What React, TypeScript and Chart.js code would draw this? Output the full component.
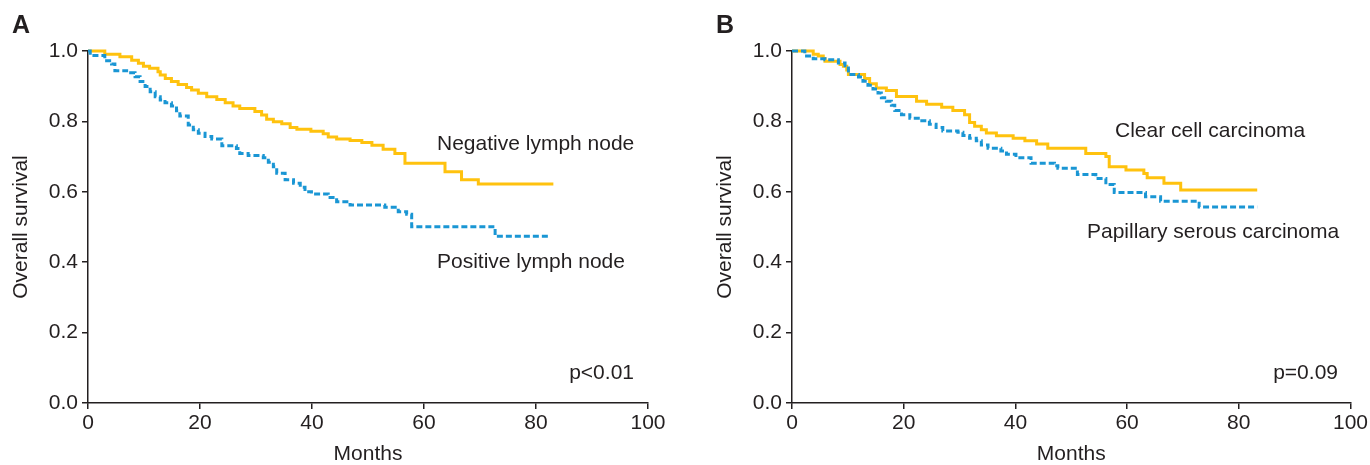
import React, { useEffect, useRef } from "react";
import { Chart, registerables } from "chart.js";

Chart.register(...registerables);

const FONT = "'Liberation Sans', Arial, Helvetica, sans-serif";
const TEXT = "#231f20";
const YELLOW = "#FFC20E";
const BLUE = "#1A96D4";

// x axis ticks (months) and y axis ticks (overall survival)
const xTickValues = [0, 20, 40, 60, 80, 100];
const yTickValues = [0, 0.2, 0.4, 0.6, 0.8, 1.0];

// Panel A: negative lymph node
const negTimes = [0, 3.0, 5.7, 7.8, 9.0, 9.9, 11.0, 12.5, 12.9, 13.8, 14.9, 16.1, 17.6, 18.5, 19.7, 21.2, 23.0, 24.5, 25.9, 27.1, 29.8, 31.0, 31.9, 33.1, 34.6, 36.1, 37.3, 39.8, 42.0, 42.9, 44.4, 46.8, 48.9, 50.7, 52.7, 54.8, 56.6, 63.75, 66.7, 69.7, 83.1];
const negSurv = [1, 0.991, 0.984, 0.974, 0.965, 0.957, 0.951, 0.941, 0.932, 0.922, 0.913, 0.905, 0.896, 0.889, 0.88, 0.87, 0.862, 0.853, 0.844, 0.837, 0.828, 0.818, 0.806, 0.799, 0.793, 0.783, 0.778, 0.772, 0.765, 0.756, 0.75, 0.746, 0.74, 0.732, 0.721, 0.709, 0.681, 0.657, 0.634, 0.622, 0.622];

// Panel A: positive lymph node
const posTimes = [0, 0.4, 3.0, 4.2, 4.8, 6.9, 8.4, 9.3, 10.2, 11.1, 12.0, 12.9, 13.75, 14.9, 15.8, 16.4, 17.9, 18.8, 19.7, 20.9, 22.1, 23.9, 26.5, 27.1, 28.6, 31.3, 32.2, 33.1, 33.7, 35.2, 36.7, 37.9, 38.75, 39.9, 42.9, 44.4, 46.8, 53.0, 55.4, 56.9, 57.8, 72.7, 82.2];
const posSurv = [1, 0.987, 0.972, 0.963, 0.944, 0.938, 0.927, 0.913, 0.899, 0.884, 0.87, 0.861, 0.853, 0.844, 0.83, 0.815, 0.79, 0.776, 0.766, 0.757, 0.75, 0.731, 0.723, 0.709, 0.703, 0.697, 0.684, 0.671, 0.653, 0.634, 0.624, 0.613, 0.6, 0.594, 0.584, 0.572, 0.5625, 0.556, 0.543, 0.536, 0.501, 0.474, 0.474];

// Panel B: clear cell carcinoma
const ccTimes = [0, 3.8, 4.7, 5.6, 5.9, 8.6, 9.2, 9.8, 10.1, 13.0, 13.9, 15.1, 16.9, 18.7, 22.3, 24.1, 26.8, 28.8, 30.9, 31.8, 32.7, 33.9, 34.8, 36.6, 39.6, 41.7, 43.8, 45.8, 52.6, 56.2, 56.8, 59.8, 63.0, 63.6, 66.6, 69.6, 83.3];
const ccSurv = [1, 0.991, 0.986, 0.979, 0.971, 0.962, 0.957, 0.946, 0.933, 0.922, 0.907, 0.895, 0.888, 0.871, 0.857, 0.849, 0.84, 0.831, 0.819, 0.797, 0.786, 0.776, 0.767, 0.759, 0.752, 0.745, 0.736, 0.724, 0.709, 0.7, 0.671, 0.662, 0.652, 0.64, 0.624, 0.605, 0.605];

// Panel B: papillary serous carcinoma
const psTimes = [0, 2.3, 3.8, 5.9, 8.3, 9.5, 10.1, 11.9, 12.7, 13.6, 14.5, 15.4, 16.0, 16.9, 17.8, 18.4, 19.6, 21.1, 22.9, 24.6, 25.8, 27.0, 29.7, 30.6, 31.8, 33.0, 33.9, 35.1, 37.4, 38.4, 40.1, 42.8, 47.0, 47.6, 51.1, 54.4, 56.2, 57.7, 63.3, 66.0, 72.9, 83.3];
const psSurv = [1, 0.986, 0.978, 0.975, 0.966, 0.958, 0.933, 0.926, 0.914, 0.903, 0.892, 0.881, 0.867, 0.857, 0.846, 0.831, 0.819, 0.809, 0.802, 0.792, 0.783, 0.773, 0.769, 0.76, 0.752, 0.745, 0.733, 0.724, 0.716, 0.707, 0.697, 0.681, 0.674, 0.667, 0.649, 0.638, 0.621, 0.598, 0.586, 0.573, 0.557, 0.557];

const toPoints = (t: number[], s: number[]) => t.map((x, i) => ({ x, y: s[i] }));

type Series = { label: string; times: number[]; surv: number[]; color: string; dashed: boolean };

function KMPanel({ left, width, rightPad, series }: { left: number; width: number; rightPad: number; series: Series[] }) {
  const ref = useRef<HTMLCanvasElement | null>(null);
  useEffect(() => {
    if (!ref.current) return;
    const chart = new Chart(ref.current, {
      type: "line",
      data: {
        datasets: series.map((s) => ({
          label: s.label,
          data: toPoints(s.times, s.surv),
          borderColor: s.color,
          backgroundColor: s.color,
          borderWidth: 3,
          borderDash: s.dashed ? [6, 3] : [],
          stepped: "before" as const,
          pointRadius: 0,
          fill: false,
          clip: 8,
          order: s.dashed ? 0 : 1,
        })),
      },
      options: {
        responsive: false,
        animation: false,
        events: [],
        layout: { padding: { left: 0, top: 51, right: rightPad, bottom: 0 } },
        plugins: { legend: { display: false }, tooltip: { enabled: false }, title: { display: false } },
        scales: {
          x: {
            type: "linear",
            min: 0,
            max: 100,
            afterBuildTicks: (scale: any) => {
              scale.ticks = xTickValues.map((v) => ({ value: v }));
            },
            afterFit: (scale: any) => {
              scale.height = 62;
            },
            ticks: {
              color: TEXT,
              font: { family: FONT, size: 21 },
              padding: 2,
              maxRotation: 0,
              autoSkip: false,
            },
            grid: { drawOnChartArea: false, drawTicks: true, tickLength: 6, color: TEXT, lineWidth: 1.5 },
            border: { display: true, color: TEXT, width: 1.5 },
            title: {
              display: true,
              text: "Months",
              color: TEXT,
              font: { family: FONT, size: 21, lineHeight: 1 },
              padding: { top: 0, bottom: 0 },
            },
          },
          y: {
            type: "linear",
            min: 0,
            max: 1,
            afterBuildTicks: (scale: any) => {
              scale.ticks = yTickValues.map((v) => ({ value: v }));
            },
            afterFit: (scale: any) => {
              scale.width = 88;
            },
            ticks: {
              color: TEXT,
              font: { family: FONT, size: 21 },
              padding: 4,
              autoSkip: false,
              callback: (v: any) => Number(v).toFixed(1),
            },
            grid: { drawOnChartArea: false, drawTicks: true, tickLength: 6, color: TEXT, lineWidth: 1.5 },
            border: { display: true, color: TEXT, width: 1.5 },
            title: {
              display: true,
              text: "Overall survival",
              color: TEXT,
              font: { family: FONT, size: 21, lineHeight: 1.2 },
              padding: { top: 9, bottom: 0 },
            },
          },
        },
      } as any,
    });
    return () => chart.destroy();
  }, []);
  return (
    <canvas
      ref={ref}
      width={width}
      height={465}
      style={{ position: "absolute", left, top: 0, width, height: 465 }}
    />
  );
}

function Label({ text, left, right, baseline, size = 21, bold = false }: { text: string; left?: number; right?: number; baseline: number; size?: number; bold?: boolean }) {
  const top = baseline - ((size - size * 1.117) / 2 + size * 0.905);
  const style: React.CSSProperties = {
    position: "absolute",
    top,
    fontFamily: FONT,
    fontSize: size,
    lineHeight: `${size}px`,
    fontWeight: bold ? "bold" : "normal",
    color: TEXT,
    whiteSpace: "nowrap",
  };
  if (left !== undefined) style.left = left;
  if (right !== undefined) style.right = 1370 - right;
  return <div style={style}>{text}</div>;
}

export default function App() {
  const seriesA: Series[] = [
    { label: "Negative lymph node", times: negTimes, surv: negSurv, color: YELLOW, dashed: false },
    { label: "Positive lymph node", times: posTimes, surv: posSurv, color: BLUE, dashed: true },
  ];
  const seriesB: Series[] = [
    { label: "Clear cell carcinoma", times: ccTimes, surv: ccSurv, color: YELLOW, dashed: false },
    { label: "Papillary serous carcinoma", times: psTimes, surv: psSurv, color: BLUE, dashed: true },
  ];
  return (
    <div style={{ position: "absolute", left: 0, top: 0, width: 1370, height: 465, background: "#fff", overflow: "hidden" }}>
      <KMPanel left={0} width={685} rightPad={37} series={seriesA} />
      <KMPanel left={704} width={666} rightPad={18} series={seriesB} />
      <Label text="A" left={12} baseline={33} size={25} bold />
      <Label text="B" left={716} baseline={33} size={25} bold />
      <Label text="Negative lymph node" left={437} baseline={149.5} />
      <Label text="Positive lymph node" left={437} baseline={268} />
      <Label text="p<0.01" right={634} baseline={379} />
      <Label text="Clear cell carcinoma" left={1115} baseline={137} />
      <Label text="Papillary serous carcinoma" left={1087} baseline={237.5} />
      <Label text="p=0.09" right={1338} baseline={379} />
    </div>
  );
}
